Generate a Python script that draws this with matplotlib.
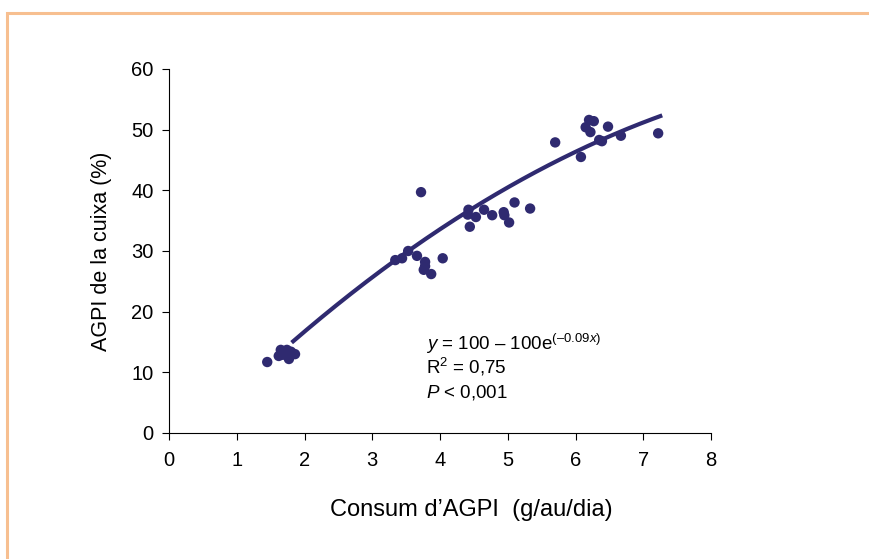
import matplotlib
matplotlib.use("Agg")
import matplotlib.pyplot as plt
import numpy as np
from matplotlib.patches import Rectangle

plt.rcParams['font.family'] = ['Liberation Sans', 'DejaVu Sans']
plt.rcParams['mathtext.fontset'] = 'custom'
plt.rcParams['mathtext.rm'] = 'Liberation Sans'
plt.rcParams['mathtext.it'] = 'Liberation Sans:italic'
plt.rcParams['mathtext.bf'] = 'Liberation Sans:bold'

# data
consum = [1.45, 1.62, 1.65, 1.68, 1.74, 1.77, 1.80, 1.86,
          3.34, 3.44, 3.53, 3.66, 3.72, 3.78, 3.78, 3.76, 3.87, 4.04,
          4.41, 4.42, 4.44, 4.53, 4.65, 4.77, 4.94, 4.95, 5.02, 5.10, 5.33,
          5.70, 6.08, 6.15, 6.22, 6.20, 6.27, 6.35, 6.39, 6.48, 6.67, 7.22]
agpi = [11.7, 12.7, 13.7, 12.9, 13.7, 12.2, 13.4, 13.0,
        28.5, 28.8, 30.0, 29.2, 39.7, 28.2, 27.5, 26.9, 26.2, 28.8,
        36.0, 36.8, 34.0, 35.6, 36.8, 35.9, 36.4, 35.9, 34.7, 38.0, 37.0,
        47.9, 45.5, 50.4, 49.6, 51.6, 51.4, 48.3, 48.1, 50.5, 49.0, 49.4]

# trend curve (as drawn) : quadratic approximation
trend_coef = [-0.514, 11.52, -4.27]
trend_range = [1.81, 7.28]

x_ticks = [0, 1, 2, 3, 4, 5, 6, 7, 8]
y_ticks = [0, 10, 20, 30, 40, 50, 60]

navy = '#2f2a70'

fig = plt.figure(figsize=(8.69, 5.59), dpi=100)
ax = fig.add_axes([169/869, 126/559, (711-169)/869, (433-69)/559])

xs = np.linspace(trend_range[0], trend_range[1], 200)
ax.plot(xs, np.polyval(trend_coef, xs), color=navy, lw=3.0, solid_capstyle='butt', zorder=2)
ax.scatter(consum, agpi, s=56, color=navy, edgecolors='none', zorder=3)

ax.set_xlim(0, 8)
ax.set_ylim(0, 60)
ax.set_xticks(x_ticks)
ax.set_yticks(y_ticks)
ax.tick_params(direction='out', length=5, width=0.8, labelsize=14.5)
ax.tick_params(axis='x', pad=8)
ax.tick_params(axis='y', pad=6)
for s in ['top', 'right']:
    ax.spines[s].set_visible(False)
for s in ['left', 'bottom']:
    ax.spines[s].set_linewidth(0.8)

ax.set_xlabel("Consum d\u2019AGPI  (g/au/dia)", fontsize=17)
ax.xaxis.set_label_coords((471 - 169) / (711 - 169), -(510 - 433) / (433 - 69))
ax.xaxis.label.set_va('center')
ax.set_ylabel("AGPI de la cuixa (%)", fontsize=15.5, labelpad=14)

ax.text(3.80, 13.6, "$y$ = 100 \u2013 100e$^{(\u20130.09\\mathit{x})}$",
        fontsize=13.5, ha='left', va='baseline')
ax.text(3.80, 9.8, "R$^2$ = 0,75", fontsize=13.5, ha='left', va='baseline')
ax.text(3.80, 5.9, "$P$ < 0,001", fontsize=13.5, ha='left', va='baseline')

fig.patches.append(Rectangle((6.5/869, -0.1), 1.2, (559-12.5)/559 + 0.1,
                             transform=fig.transFigure, fill=False,
                             edgecolor='#f7bf90', lw=2.2))

fig.savefig("out.png", dpi=100)
